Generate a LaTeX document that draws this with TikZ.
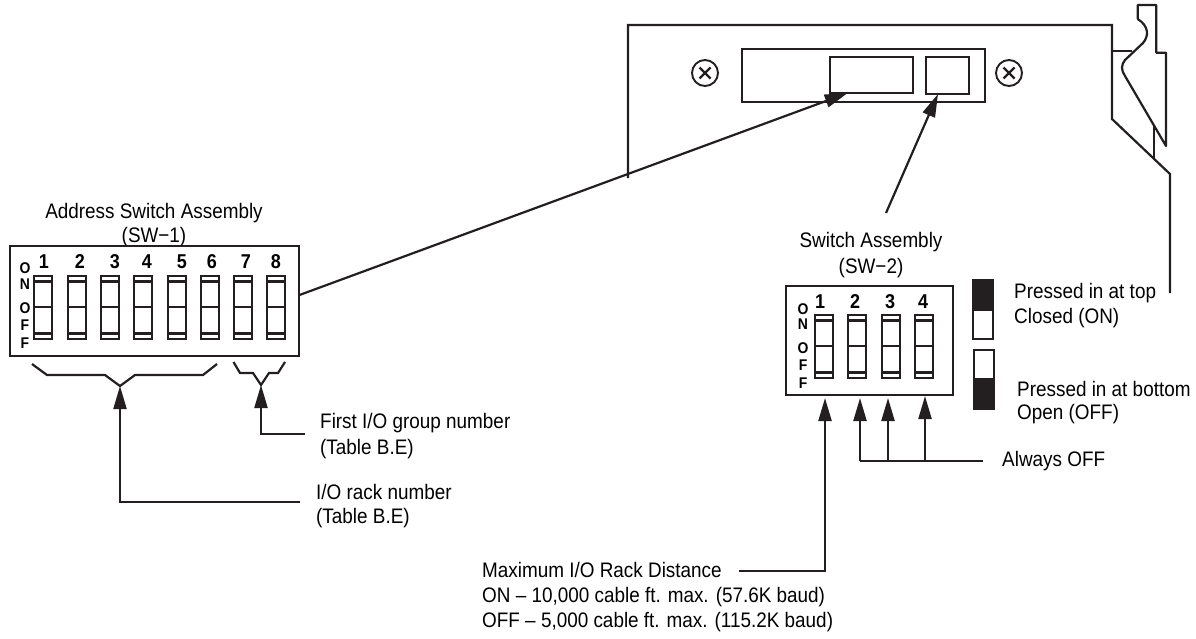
\documentclass[tikz,border=0pt]{standalone}
\usepackage{fontspec}
\setmainfont[FakeStretch=0.9]{Liberation Sans}
\usetikzlibrary{arrows.meta}
\tikzset{
  lbl/.style={inner sep=0pt,anchor=west,font=\fontsize{21}{21}\selectfont},
  clbl/.style={inner sep=0pt,anchor=center,font=\fontsize{21}{21}\selectfont},
  num/.style={inner sep=0pt,anchor=center,font=\fontsize{20}{20}\bfseries\selectfont},
  let/.style={inner sep=0pt,anchor=center,font=\fontsize{15.5}{15.5}\bfseries\selectfont},
  ln/.style={draw=ink,line width=2.2pt,line join=miter},
  box/.style={ln,inner sep=0pt,outer sep=0pt,fill=white},
  arw/.style={ln,-{Triangle[length=23pt,width=13pt]}},
}
\definecolor{ink}{HTML}{231F20}
\newcommand{\dipsw}[6]{% name, x left, width, top, bottom, line offsets
  \node[box,minimum width=#3pt,minimum height=#5pt-#4pt,anchor=north west] (#1) at (#2,#4) {};
  \draw[ln] (#1.north west) ++(0,5.5) -- ++(#3,0);
  \draw[ln] (#1.south west) ++(0,-5.5) -- ++(#3,0);
  \draw[ln] (#1.west) ++(0,#6) -- ++(#3,0);
}
\begin{document}
\begin{tikzpicture}[x=1pt,y=-1pt]
\useasboundingbox (0,0) rectangle (1196,638);

% housing
\coordinate (pa) at (628,178);
\coordinate (pb) at (628,25);
\coordinate (pc) at (1112,25);
\coordinate (pd) at (1112,119);
\coordinate (pe) at (1170,174);
\coordinate (pf) at (1170,293);
\draw[ln] (pa) -- (pb) -- (pc) -- (pd) -- (pe) -- (pf);
\coordinate (qa) at (1112,51);
\coordinate (qb) at (1132,51);
\draw[ln] (qa) -- (qb);
\draw[ln,line join=round] (1137.7,19) -- (1137.7,5) -- (1156.3,5) -- (1156.3,52.7) -- (1166,52.7) -- (1166,146) -- (1125,76)
  .. controls (1121,70) and (1121,65) .. (1125,60)
  -- (1143,43)
  .. controls (1149,36) and (1149,26) .. (1137.7,19);
\coordinate (ra) at (1154,125);
\coordinate (rb) at (1154,159);
\draw[ln] (ra) -- (rb);

% connector plate
\node[box,minimum width=243pt,minimum height=53pt,anchor=north west] (plate) at (741.7,49) {};
\node[box,minimum width=82.7pt,minimum height=36.6pt,anchor=north west] (slotA) at (830,56.7) {};
\node[box,minimum width=43.6pt,minimum height=37pt,anchor=north west] (slotB) at (925.7,57) {};
\node[ln,circle,minimum size=26pt,inner sep=0pt,line width=1.9pt] (scrL) at (705,73) {};
\node[ln,circle,minimum size=26pt,inner sep=0pt,line width=1.9pt] (scrR) at (1009,73) {};
\foreach \s in {scrL,scrR}{
  \draw[ln] (\s.center) ++(-5.5,-5.5) -- ++(11,11);
  \draw[ln] (\s.center) ++(-5.5,5.5) -- ++(11,-11);
}

% SW-1
\node[clbl] (t1) at (154,213) {Address Switch Assembly};
\node[clbl] (t1b) at (154,237) {(SW−1)};
\node[box,minimum width=289pt,minimum height=110pt,anchor=north west] (swa) at (10,246) {};
\dipsw{a1}{34}{18}{276}{339}{-0.5}
\dipsw{a2}{68}{18}{276}{339}{-0.5}
\dipsw{a3}{101}{18}{276}{339}{-0.5}
\dipsw{a4}{134}{18}{276}{339}{-0.5}
\dipsw{a5}{168}{18}{276}{339}{-0.5}
\dipsw{a6}{201}{18}{276}{339}{-0.5}
\dipsw{a7}{234}{18}{276}{339}{-0.5}
\dipsw{a8}{267}{18}{276}{339}{-0.5}
\node[num] (n1) at (44,262) {1};
\node[num] (n2) at (80,262) {2};
\node[num] (n3) at (115,262) {3};
\node[num] (n4) at (147,262) {4};
\node[num] (n5) at (182,262) {5};
\node[num] (n6) at (212,262) {6};
\node[num] (n7) at (246,262) {7};
\node[num] (n8) at (276,262) {8};
\node[let] (l1) at (25,268) {O};
\node[let] (l2) at (25,284) {N};
\node[let] (l3) at (25,308) {O};
\node[let] (l4) at (25,325) {F};
\node[let] (l5) at (25,343) {F};

% brackets
\coordinate (ba) at (32,364);
\coordinate (bb) at (47,375);
\coordinate (bc) at (105,375);
\coordinate (bd) at (120,386);
\coordinate (be) at (135,375);
\coordinate (bf) at (203,375);
\coordinate (bg) at (217,364);
\draw[ln] (ba) -- (bb) -- (bc) -- (bd) -- (be) -- (bf) -- (bg);
\coordinate (ca) at (233.5,362);
\coordinate (cb) at (240,373);
\coordinate (cc) at (253,373);
\coordinate (cd) at (261,385);
\coordinate (ce) at (269,373);
\coordinate (cf) at (278,373);
\coordinate (cg) at (285,362);
\draw[ln] (ca) -- (cb) -- (cc) -- (cd) -- (ce) -- (cf) -- (cg);

% callouts SW-1
\coordinate (ra1) at (300,502);
\coordinate (ra2) at (120,502);
\draw[arw] (ra1) -- (ra2) -- (bd);
\coordinate (gr1) at (305,434);
\coordinate (gr2) at (261,434);
\draw[arw] (gr1) -- (gr2) -- (cd);
\node[lbl] (g1) at (320,423) {First I/O group number};
\node[lbl] (g2) at (320,449) {(Table B.E)};
\node[lbl] (r1) at (316,492) {I/O rack number};
\node[lbl] (r2) at (316,518) {(Table B.E)};

% leaders to the slots
\coordinate (la) at (299.5,295);
\coordinate (lb) at (847.7,93);
\draw[arw] (la) -- (lb);
\coordinate (ma) at (886,213);
\coordinate (mb) at (938,94);
\draw[arw] (ma) -- (mb);

% SW-2
\node[clbl] (t2) at (871,242) {Switch Assembly};
\node[clbl] (t2b) at (871,268) {(SW−2)};
\node[box,minimum width=167pt,minimum height=109pt,anchor=north west] (swb) at (786,286) {};
\dipsw{b1}{815}{18}{315}{378}{-0.5}
\dipsw{b2}{848}{18}{315}{378}{-0.5}
\dipsw{b3}{882}{18}{315}{378}{-0.5}
\dipsw{b4}{915}{18}{315}{378}{-0.5}
\node[num] (m1) at (820,302) {1};
\node[num] (m2) at (855,302) {2};
\node[num] (m3) at (890,302) {3};
\node[num] (m4) at (923,302) {4};
\node[let] (k1) at (803,309.5) {O};
\node[let] (k2) at (803,324.5) {N};
\node[let] (k3) at (803,348) {O};
\node[let] (k4) at (803,365) {F};
\node[let] (k5) at (803,383) {F};

% legend
\node[box,minimum width=20pt,minimum height=59pt,anchor=north west] (on) at (973,280) {};
\fill[ink] (on.north west) rectangle (993,311);
\node[box,minimum width=20pt,minimum height=59pt,anchor=north west] (off) at (974,350) {};
\fill[ink] (974,378) rectangle (off.south east);
\node[lbl] (o1) at (1014,293) {Pressed in at top};
\node[lbl] (o2) at (1014,318) {Closed (ON)};
\node[lbl] (o3) at (1017,389) {Pressed in at bottom};
\node[lbl] (o4) at (1017,414) {Open (OFF)};

% callouts SW-2
\coordinate (al) at (983,461);
\coordinate (a2) at (860,461);
\coordinate (t2t) at (860,398);
\coordinate (a3b) at (888,461);
\coordinate (t3t) at (888,398);
\coordinate (a4b) at (925,461);
\coordinate (t4t) at (925,396);
\draw[ln] (al) -- (a2);
\draw[arw] (a2) -- (t2t);
\draw[arw] (a3b) -- (t3t);
\draw[arw] (a4b) -- (t4t);
\node[lbl] (alw) at (1002,461) {Always OFF};
\coordinate (d1) at (739,571);
\coordinate (d2) at (825,571);
\coordinate (dt) at (825,398);
\draw[arw] (d1) -- (d2) -- (dt);
\node[lbl] (d1t) at (482,570) {Maximum I/O Rack Distance};
\node[lbl] (d2t) at (482,597) {ON – 10,000 cable ft. max. (57.6K baud)};
\node[lbl] (d3t) at (482,622) {OFF – 5,000 cable ft. max. (115.2K baud)};
\end{tikzpicture}
\end{document}
